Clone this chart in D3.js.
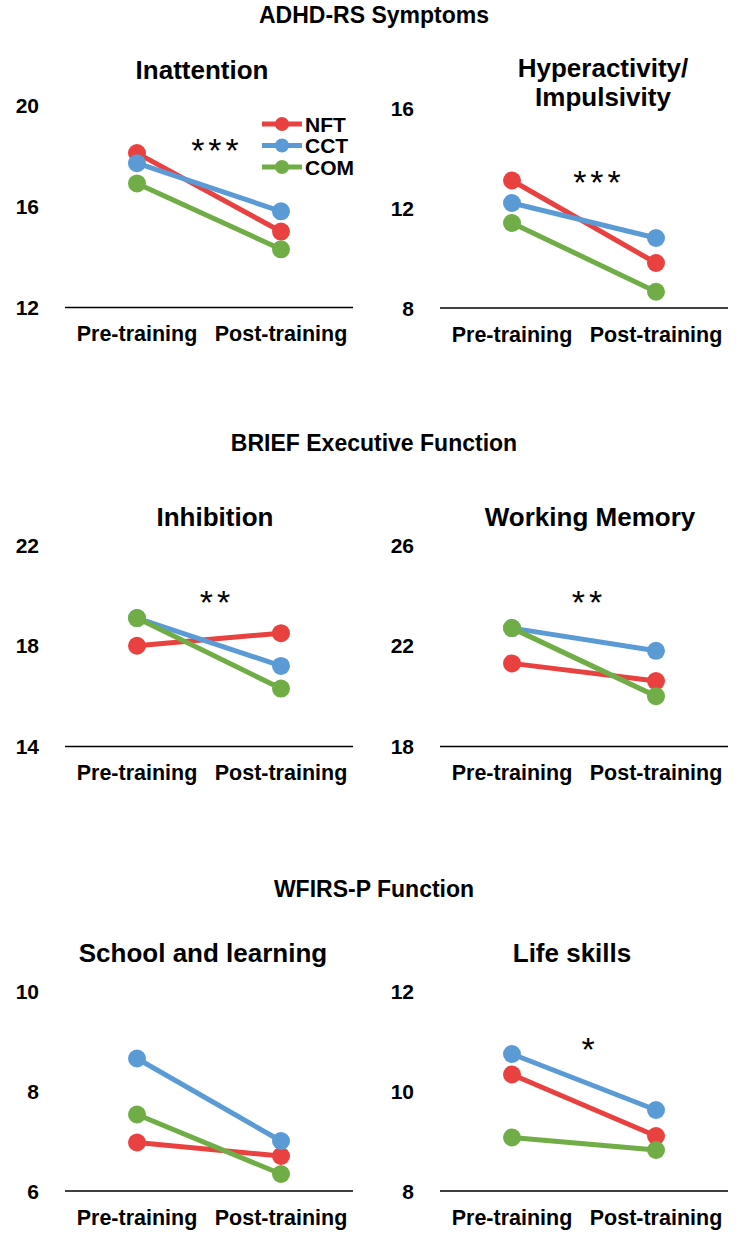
<!DOCTYPE html>
<html>
<head>
<meta charset="utf-8">
<script src="https://cdn.jsdelivr.net/npm/d3@7"></script>
<style>
  body { margin: 0; background: #fff; }
  text { font-family: "Liberation Sans", Arial, sans-serif; font-weight: bold; fill: #000; }
</style>
</head>
<body>
<svg id="chart" width="749" height="1233"></svg>
<script>
// groups and phases
const groups = ["NFT", "CCT", "COM"];
const groupColors = ["#E8413F", "#5B9BD5", "#70AD47"];
const phases = ["Pre-training", "Post-training"];

// values per panel: [pre, post] for NFT, CCT, COM
const inattentionVals = [[18.1, 15.0], [17.7, 15.8], [16.9, 14.3]];
const hyperactivityVals = [[13.1, 9.8], [12.2, 10.8], [11.4, 8.65]];
const inhibitionVals = [[18.0, 18.5], [19.1, 17.2], [19.1, 16.3]];
const workingMemoryVals = [[21.3, 20.6], [22.7, 21.8], [22.7, 20.0]];
const schoolVals = [[6.97, 6.7], [8.65, 7.0], [7.53, 6.34]];
const lifeSkillsVals = [[10.33, 9.1], [10.74, 9.62], [9.07, 8.82]];

// tick labels
const inattentionTicks = [12, 16, 20];
const hyperactivityTicks = [8, 12, 16];
const inhibitionTicks = [14, 18, 22];
const workingMemoryTicks = [18, 22, 26];
const schoolTicks = [6, 8, 10];
const lifeSkillsTicks = [8, 10, 12];

const sectionTitles = ["ADHD-RS Symptoms", "BRIEF Executive Function", "WFIRS-P Function"];

const panels = [
  {title: ["Inattention"], vals: inattentionVals, ticks: inattentionTicks, stars: "***",
   x0: 65, yBase: 307.5, yTop: 105, tx: 202, ty: [70], sx: 215, sy: 143, legend: true},
  {title: ["Hyperactivity/", "Impulsivity"], vals: hyperactivityVals, ticks: hyperactivityTicks, stars: "***",
   x0: 440, yBase: 308, yTop: 108, tx: 603, ty: [68, 97], sx: 597, sy: 175},
  {title: ["Inhibition"], vals: inhibitionVals, ticks: inhibitionTicks, stars: "**",
   x0: 65, yBase: 746.5, yTop: 545, tx: 215, ty: [517], sx: 215, sy: 595},
  {title: ["Working Memory"], vals: workingMemoryVals, ticks: workingMemoryTicks, stars: "**",
   x0: 440, yBase: 746.5, yTop: 545, tx: 590, ty: [517], sx: 587, sy: 595},
  {title: ["School and learning"], vals: schoolVals, ticks: schoolTicks, stars: "",
   x0: 65, yBase: 1191, yTop: 991, tx: 203, ty: [953], sx: 0, sy: 0},
  {title: ["Life skills"], vals: lifeSkillsVals, ticks: lifeSkillsTicks, stars: "*",
   x0: 440, yBase: 1191, yTop: 991, tx: 572, ty: [953], sx: 588, sy: 1042}
];

const svg = d3.select("#chart");
const axisW = 288;

// section headings
const sectionY = [15, 443, 889];
svg.selectAll("text.section")
  .data(sectionTitles)
  .join("text")
  .attr("class", "section")
  .attr("x", 374)
  .attr("y", (d, i) => sectionY[i])
  .attr("dy", "0.36em")
  .attr("text-anchor", "middle")
  .style("font-size", "23px")
  .text(d => d);

panels.forEach(p => {
  const g = svg.append("g");

  const x = d3.scalePoint()
    .domain(phases)
    .range([p.x0, p.x0 + axisW])
    .padding(0.5);

  const y = d3.scaleLinear()
    .domain([p.ticks[0], p.ticks[p.ticks.length - 1]])
    .range([p.yBase, p.yTop]);

  // baseline
  g.append("line")
    .attr("x1", p.x0).attr("x2", p.x0 + axisW)
    .attr("y1", y(p.ticks[0])).attr("y2", y(p.ticks[0]))
    .attr("stroke", "#000").attr("stroke-width", 1.3);

  // y tick labels
  g.selectAll("text.ytick")
    .data(p.ticks)
    .join("text")
    .attr("class", "ytick")
    .attr("x", p.x0 - 26)
    .attr("y", d => y(d))
    .attr("dy", "0.36em")
    .attr("text-anchor", "end")
    .style("font-size", "21px")
    .text(d => d);

  // x labels
  g.selectAll("text.xlab")
    .data(phases)
    .join("text")
    .attr("class", "xlab")
    .attr("x", d => x(d))
    .attr("y", p.yBase + 26)
    .attr("dy", "0.36em")
    .attr("text-anchor", "middle")
    .style("font-size", "21.5px")
    .text(d => d);

  // title
  g.selectAll("text.ptitle")
    .data(p.title)
    .join("text")
    .attr("class", "ptitle")
    .attr("x", p.tx)
    .attr("y", (d, i) => p.ty[i])
    .attr("dy", "0.36em")
    .attr("text-anchor", "middle")
    .style("font-size", "26px")
    .text(d => d);

  // series
  const line = d3.line().x((d, i) => x(phases[i])).y(d => y(d));
  p.vals.forEach((v, gi) => {
    g.append("path")
      .attr("d", line(v))
      .attr("fill", "none")
      .attr("stroke", groupColors[gi])
      .attr("stroke-width", 5);
    g.selectAll(null)
      .data(v)
      .join("circle")
      .attr("cx", (d, i) => x(phases[i]))
      .attr("cy", d => y(d))
      .attr("r", 9)
      .attr("fill", groupColors[gi]);
  });

  // significance stars
  if (p.stars) {
    g.append("text")
      .attr("x", p.sx + 2)
      .attr("y", p.sy + 19)
      .attr("text-anchor", "middle")
      .style("font-size", "34px")
      .style("font-weight", "normal")
      .style("letter-spacing", "4px")
      .text(p.stars);
  }

  if (p.legend) {
    const lg = g.append("g");
    groups.forEach((name, gi) => {
      const ly = 124 + gi * 21.5;
      lg.append("line")
        .attr("x1", 262).attr("x2", 302)
        .attr("y1", ly).attr("y2", ly)
        .attr("stroke", groupColors[gi]).attr("stroke-width", 5);
      lg.append("circle")
        .attr("cx", 282).attr("cy", ly).attr("r", 7)
        .attr("fill", groupColors[gi]);
      lg.append("text")
        .attr("x", 305).attr("y", ly)
        .attr("dy", "0.36em")
        .style("font-size", "21px")
        .text(name);
    });
  }
});
</script>
</body>
</html>
